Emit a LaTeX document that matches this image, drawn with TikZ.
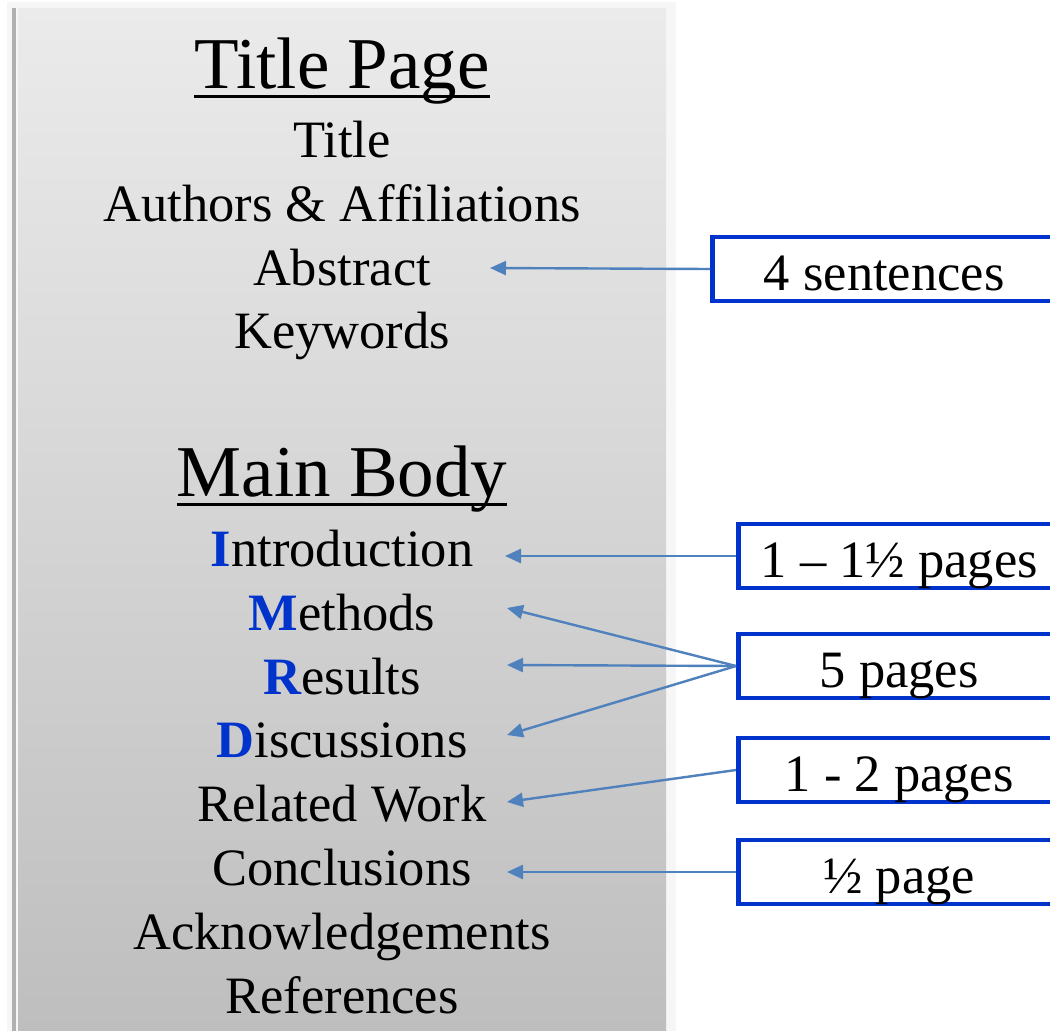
\documentclass[tikz,border=0pt]{standalone}
\usepackage{fontspec}
\setmainfont{Liberation Serif}
\usetikzlibrary{arrows.meta}
\definecolor{panetop}{RGB}{235,235,235}
\definecolor{panebot}{RGB}{190,190,190}
\definecolor{paneedge}{RGB}{176,176,176}
\definecolor{paneshade}{RGB}{246,246,246}
\definecolor{boxblue}{RGB}{0,51,204}
\definecolor{arrowblue}{RGB}{79,129,189}
\newcommand{\hdsize}{\fontsize{73}{80}\selectfont}
\newcommand{\txsize}{\fontsize{52.5}{60}\selectfont}
\newcommand{\initial}[1]{\textcolor{boxblue}{\textbf{#1}}}

\begin{document}
\begin{tikzpicture}[x=1pt,y=-1pt,
    heading/.style={anchor=base,inner sep=0pt,font=\hdsize},
    item/.style={anchor=base,inner sep=0pt,font=\txsize},
    sizebox/.style={draw=boxblue,line width=4.5pt,fill=white,anchor=west,
        minimum height=64pt,inner sep=0pt,text height=42pt,text depth=0pt,font=\txsize},
    pointer/.style={draw=arrowblue,line width=2.4pt,-{Triangle[length=16pt,width=14pt]}}]
        \clip (0,0) rectangle (1050,1031);
        \fill[white] (0,0) rectangle (1050,1031);

        % left panel
        \fill[paneshade] (7,2) rectangle (676,1031);
        \fill[paneedge] (12,8) rectangle (16,1031);
        \shade[top color=panetop,bottom color=panebot] (18,8) rectangle (666,1031);

        % front matter
        \node[heading] (tp) at (342,88) {Title Page};
        \draw[line width=3pt] ([yshift=-8pt]tp.base west) -- ([yshift=-8pt]tp.base east);
        \node[item] (title) at (342,157) {Title};
        \node[item] (authors) at (342,221) {Authors \& Affiliations};
        \node[item] (abstract) at (342,285) {Abstract};
        \node[item] (keywords) at (342,348) {Keywords};

        % main body
        \node[heading] (mb) at (342,496) {Main Body};
        \draw[line width=3pt] ([yshift=-8pt]mb.base west) -- ([yshift=-8pt]mb.base east);
        \node[item] (intro) at (342,566) {\initial{I}ntroduction};
        \node[item] (methods) at (342,630) {\initial{M}ethods};
        \node[item] (results) at (342,694) {\initial{R}esults};
        \node[item] (discuss) at (342,757) {\initial{D}iscussions};
        \node[item] (related) at (342,821) {Related Work};
        \node[item] (concl) at (342,885) {Conclusions};
        \node[item] (ack) at (342,949) {Acknowledgements};
        \node[item] (refs) at (342,1013) {References};

        % page budgets
        \node[sizebox,minimum width=344pt] (sabs) at (710,269) {4 sentences};
        \node[sizebox,minimum width=322pt] (sintro) at (736,556) {1 -- 1½ pages};
        \node[sizebox,minimum width=322pt] (smrd) at (736,666) {5 pages};
        \node[sizebox,minimum width=322pt] (srel) at (736,770) {1 - 2 pages};
        \node[sizebox,minimum width=322pt] (sconc) at (736,872) {½ page};

        % arrow ends
        \coordinate (tabs) at (490,268);
        \coordinate (tintro) at (505,556);
        \coordinate (tmeth) at (507,608);
        \coordinate (tres) at (507,665);
        \coordinate (tdisc) at (507,735);
        \coordinate (trel) at (507,802);
        \coordinate (tconc) at (507,872);

        \draw[pointer] (sabs.west) -- (tabs);
        \draw[pointer] (sintro.west) -- (tintro);
        \draw[pointer] (smrd.west) -- (tmeth);
        \draw[pointer] (smrd.west) -- (tres);
        \draw[pointer] (smrd.west) -- (tdisc);
        \draw[pointer] (srel.west) -- (trel);
        \draw[pointer] (sconc.west) -- (tconc);
    \end{tikzpicture}
\end{document}
